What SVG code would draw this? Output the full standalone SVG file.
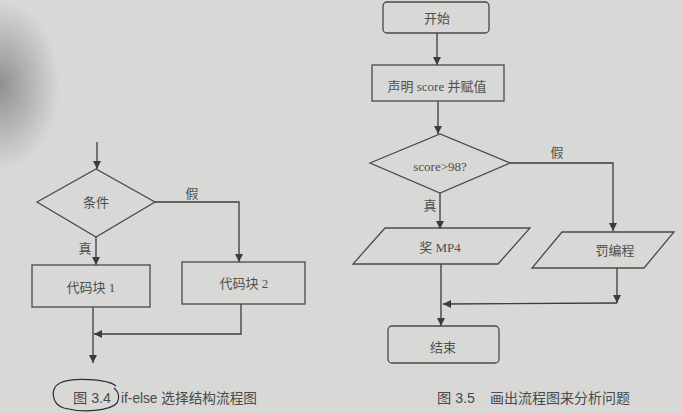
<svg xmlns="http://www.w3.org/2000/svg" width="682" height="413" viewBox="0 0 682 413">
<defs>
<style>
.ln{fill:none;stroke:#3c3c3c;stroke-width:1.3}
.sh{fill:none;stroke:#4a4a4a;stroke-width:1.3}
.t{font-family:"Liberation Serif","Noto Sans CJK SC",serif;font-size:13px;fill:#4e4e4e;text-anchor:middle;dominant-baseline:central}
.c{font-family:"Liberation Sans","Noto Sans CJK SC",sans-serif;font-size:14px;fill:#4a4a4a;dominant-baseline:central}
</style>
<marker id="ah" viewBox="0 0 10 10" refX="10" refY="5" markerWidth="8" markerHeight="8" markerUnits="userSpaceOnUse" orient="auto">
<path d="M0,0 L10,5 L0,10 z" fill="#3c3c3c"/>
</marker>
<radialGradient id="shade" cx="0" cy="85" r="60" gradientUnits="userSpaceOnUse" gradientTransform="translate(0,85) scale(1,1.4) translate(0,-85)">
<stop offset="0" stop-color="#555" stop-opacity="0.55"/>
<stop offset="1" stop-color="#555" stop-opacity="0"/>
</radialGradient>
</defs>
<rect width="682" height="413" fill="#d8d8d6"/>
<rect width="682" height="413" fill="url(#shade)"/>

<g id="connectors">
<line class="ln" x1="97" y1="142" x2="97" y2="169" marker-end="url(#ah)"/>
<line class="ln" x1="96" y1="237" x2="96" y2="265" marker-end="url(#ah)"/>
<polyline class="ln" points="155,202 239,202 239,262" marker-end="url(#ah)"/>
<line class="ln" x1="93" y1="307" x2="93" y2="363" marker-end="url(#ah)"/>
<polyline class="ln" points="241,304 241,334 94,334" marker-end="url(#ah)"/>
<text class="t" x="192" y="193">假</text>
<text class="t" x="85" y="248">真</text>

<line class="ln" x1="437" y1="33" x2="437" y2="65" marker-end="url(#ah)"/>
<line class="ln" x1="438" y1="101" x2="438" y2="134" marker-end="url(#ah)"/>
<polyline class="ln" points="510,163 613,163 613,231" marker-end="url(#ah)"/>
<line class="ln" x1="440" y1="193" x2="440" y2="229" marker-end="url(#ah)"/>
<line class="ln" x1="617" y1="268" x2="617" y2="303" marker-end="url(#ah)"/>
<line class="ln" x1="617" y1="303" x2="443" y2="304" marker-end="url(#ah)"/>
<line class="ln" x1="441" y1="264" x2="441" y2="326" marker-end="url(#ah)"/>
<text class="t" x="557" y="152">假</text>
<text class="t" x="430" y="205">真</text>
</g>

<g id="cond">
<polygon class="sh" points="37,202 96,169 155,202 96,237"/>
<text class="t" x="96" y="202">条件</text>
</g>
<g id="block1">
<rect class="sh" x="32" y="265" width="118" height="42"/>
<text class="t" x="91" y="287">代码块 1</text>
</g>
<g id="block2">
<rect class="sh" x="182" y="262" width="123" height="42"/>
<text class="t" x="244" y="283">代码块 2</text>
</g>
<g id="caption34">
<text class="c" x="73" y="398" textLength="38" lengthAdjust="spacingAndGlyphs">图 3.4</text>
<text class="c" x="121" y="398" textLength="136" lengthAdjust="spacingAndGlyphs">if-else 选择结构流程图</text>
<path d="M116,386 C108,379 72,377 60,383 C50,388 51,404 64,408 C82,413 110,411 117,403 C120,398 119,392 114,388" fill="none" stroke="#2e2e2e" stroke-width="1.2"/>
</g>

<g id="start">
<rect class="sh" x="383" y="2" width="106" height="31" rx="4"/>
<text class="t" x="437" y="18">开始</text>
</g>
<g id="declare">
<rect class="sh" x="372" y="65" width="132" height="36"/>
<text class="t" x="437" y="86">声明 score 并赋值</text>
</g>
<g id="decision">
<polygon class="sh" points="370,163 440,134 510,163 440,193"/>
<text class="t" x="440" y="166">score&gt;98?</text>
</g>
<g id="reward">
<polygon class="sh" points="385,228 530,228 498,264 353,264"/>
<text class="t" x="440" y="247">奖 MP4</text>
</g>
<g id="punish">
<polygon class="sh" points="562,232 674,232 644,268 532,268"/>
<text class="t" x="615" y="250">罚编程</text>
</g>
<g id="end">
<rect class="sh" x="388" y="326" width="111" height="37" rx="4"/>
<text class="t" x="443" y="347">结束</text>
</g>
<g id="caption35">
<text class="c" x="437" y="398" textLength="38" lengthAdjust="spacingAndGlyphs">图 3.5</text>
<text class="c" x="490" y="398" textLength="140" lengthAdjust="spacingAndGlyphs">画出流程图来分析问题</text>
</g>
</svg>
